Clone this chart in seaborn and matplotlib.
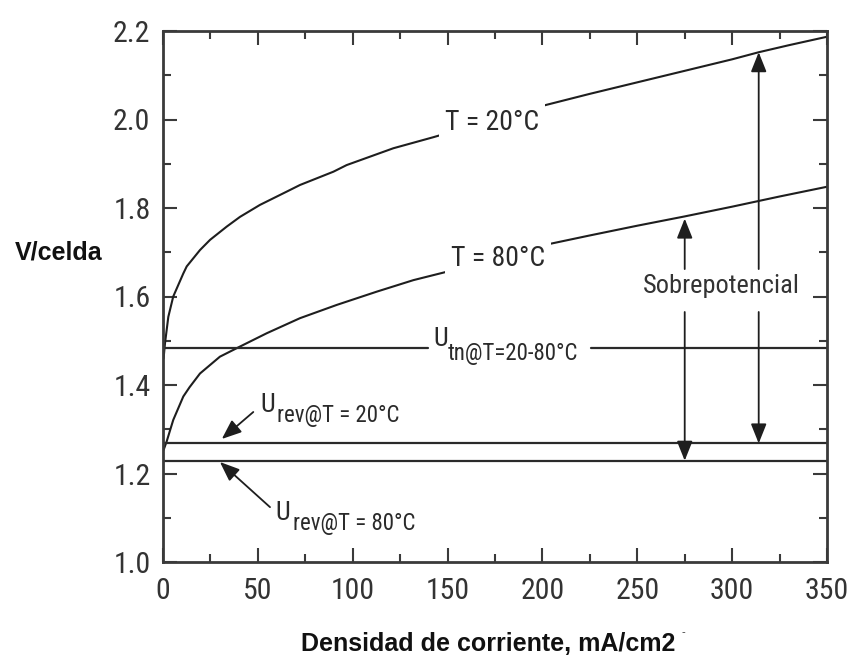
import numpy as np
import pandas as pd
import matplotlib
matplotlib.use("Agg")
import matplotlib.pyplot as plt
import seaborn as sns

# ---- data ----
x_t20 = [0.3, 1.05, 2.8, 5.4, 10.7, 12.5, 19.5, 24.8, 33.6, 40.6, 51.1, 65.2, 72.2, 89.8, 96.8,
         121.4, 142.5, 160.0, 180.0, 202.0, 225.0, 250.0, 275.0, 300.0, 314.0, 330.0, 350.0]
v_t20 = [1.46, 1.494, 1.554, 1.600, 1.652, 1.668, 1.705, 1.728, 1.758, 1.780, 1.807, 1.837, 1.852,
         1.882, 1.897, 1.935, 1.960, 1.982, 2.008, 2.033, 2.058, 2.084, 2.110, 2.136, 2.152, 2.168, 2.187]

x_t80 = [0.3, 1.9, 5.4, 10.7, 14.0, 19.5, 30.0, 39.7, 54.7, 72.2, 91.6, 112.7, 132.0, 147.8,
         165.0, 185.0, 204.0, 225.0, 250.0, 275.0, 300.0, 325.0, 350.0]
v_t80 = [1.253, 1.272, 1.321, 1.374, 1.395, 1.426, 1.464, 1.485, 1.517, 1.551, 1.581, 1.611, 1.637,
         1.654, 1.673, 1.697, 1.719, 1.738, 1.760, 1.781, 1.803, 1.826, 1.848]

u_tn = 1.484
u_rev20 = 1.268
u_rev80 = 1.229

x_ticks = [0, 50, 100, 150, 200, 250, 300, 350]
y_ticks = [1.0, 1.2, 1.4, 1.6, 1.8, 2.0, 2.2]
y_tick_labels = ["1.0", "1.2", "1.4", "1.6", "1.8", "2.0", "2.2"]

arrow_x = [275, 314]
arrow_top = [1.776, 2.152]
arrow_bottom = [u_rev80, u_rev20]

# ---- styling ----
sns.set_theme(style="ticks")
COND = ["Roboto Condensed", "Liberation Sans", "DejaVu Sans"]
BOLD = ["Liberation Sans", "DejaVu Sans"]
plt.rcParams["font.family"] = COND
plt.rcParams["axes.unicode_minus"] = False

ink = "#1e1e1e"
axcol = "#3a3a3a"
txtcol = "#2a2a2a"

fig = plt.figure(figsize=(8.51, 6.68), dpi=100)
ax = fig.add_axes([163 / 851, 1 - 562 / 668, (827 - 163) / 851, (562 - 31) / 668])

df20 = pd.DataFrame({"x": x_t20, "v": v_t20})
df80 = pd.DataFrame({"x": x_t80, "v": v_t80})
sns.lineplot(data=df20, x="x", y="v", ax=ax, color=ink, lw=1.5, sort=True)
sns.lineplot(data=df80, x="x", y="v", ax=ax, color=ink, lw=1.5, sort=True)

# U_tn line, broken where its label sits
for x0, x1 in [(0, 139.5), (225.5, 350)]:
    hl = pd.DataFrame({"x": [x0, x1], "v": [u_tn, u_tn]})
    sns.lineplot(data=hl, x="x", y="v", ax=ax, color="#2a2a2a", lw=1.6)
for val in [u_rev20, u_rev80]:
    hl = pd.DataFrame({"x": [0, 350], "v": [val, val]})
    sns.lineplot(data=hl, x="x", y="v", ax=ax, color="#2a2a2a", lw=1.6)

ax.set_xlim(0, 350)
ax.set_ylim(1.0, 2.2)
ax.set_xticks(x_ticks)
ax.set_xticks([25, 75, 125, 175, 225, 275, 325], minor=True)
ax.set_yticks(y_ticks)
ax.set_yticklabels(y_tick_labels)
ax.set_yticks([1.1, 1.3, 1.5, 1.7, 1.9, 2.1], minor=True)
ax.tick_params(which="both", direction="in", top=True, right=True, color=axcol, width=1.5,
               labelcolor="#333333", labelsize=21.5)
ax.tick_params(which="major", length=10)
ax.tick_params(which="minor", length=6)
ax.tick_params(axis="x", which="major", pad=11)
ax.tick_params(axis="y", which="major", pad=9)
for s in ax.spines.values():
    s.set_color(axcol)
    s.set_linewidth(2)
ax.grid(False)

ax.set_xlabel("Densidad de corriente, mA/cm2", fontsize=18, fontweight="bold", family=BOLD,
              color="#111111")
ax.xaxis.set_label_coords((488 - 163) / 664, (562 - 632) / 531)
ax.set_ylabel("V/celda", fontsize=18, fontweight="bold", rotation=0, family=BOLD,
              color="#111111", ha="center", va="center")
ax.yaxis.set_label_coords((59 - 163) / 664, (562 - 252) / 531)
fig.text(683 / 851, 1 - 632 / 668, "-", fontsize=8, color="#333333", ha="center", va="center",
         family=BOLD)

wb = dict(facecolor="white", edgecolor="none", pad=4)
ax.text(173.4, 1.993, "T = 20°C", fontsize=20, color=txtcol, ha="center", va="center", bbox=wb)
ax.text(176.6, 1.687, "T = 80°C", fontsize=20, color=txtcol, ha="center", va="center", bbox=wb)

ax.text(142.3, 1.488, "U", fontsize=19, color=txtcol, ha="left", va="baseline")
ax.text(150.2, 1.4565, "tn@T=20-80°C", fontsize=16.5, color=txtcol, ha="left", va="baseline")

ax.text(51.1, 1.339, "U", fontsize=19, color=txtcol, ha="left", va="baseline")
ax.text(60.1, 1.316, "rev@T = 20°C", fontsize=16.5, color=txtcol, ha="left", va="baseline")
ax.text(59.0, 1.095, "U", fontsize=19, color=txtcol, ha="left", va="baseline")
ax.text(68.5, 1.072, "rev@T = 80°C", fontsize=16.5, color=txtcol, ha="left", va="baseline")

aprops = dict(arrowstyle="-|>,head_length=1.0,head_width=0.4", color=ink, lw=1.3,
              shrinkA=0, shrinkB=0, mutation_scale=12)
ax.annotate("", xy=(31.0, 1.278), xytext=(47.6, 1.339), arrowprops=aprops)
ax.annotate("", xy=(30.0, 1.226), xytext=(56.4, 1.124), arrowprops=aprops)

gap_top, gap_bottom = 1.662, 1.565
for xa, yt, yb in zip(arrow_x, arrow_top, arrow_bottom):
    ax.annotate("", xy=(xa, yt), xytext=(xa, gap_top), arrowprops=aprops)
    ax.annotate("", xy=(xa, yb), xytext=(xa, gap_bottom), arrowprops=aprops)
ax.text(294.2, 1.624, "Sobrepotencial", fontsize=19, color="#333333", ha="center", va="center")

fig.savefig("out.png", dpi=100, facecolor="white")
